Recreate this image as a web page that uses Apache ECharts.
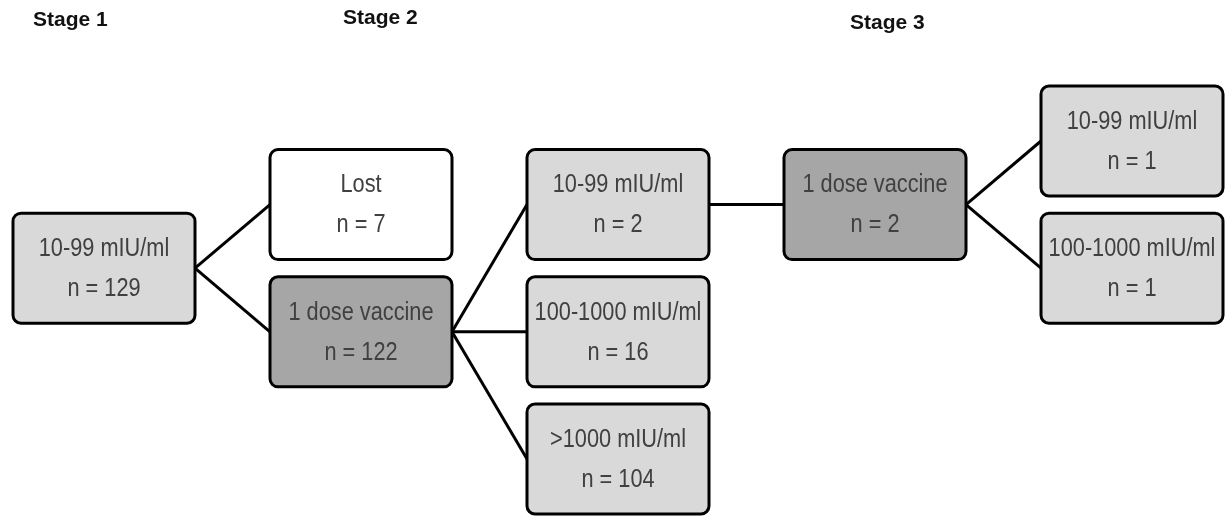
<!DOCTYPE html>
<html>
<head>
<meta charset="utf-8">
<script src="https://cdn.jsdelivr.net/npm/echarts@6/dist/echarts.min.js"></script>
<style>
  html, body { margin: 0; padding: 0; background: #fff; }
  #mychart { width: 1226px; height: 516px; }
</style>
</head>
<body>
<div id="mychart"></div>
<script>
// nodes of the flow chart
const nodeLabels = ['10-99 mIU/ml', 'Lost', '1 dose vaccine', '10-99 mIU/ml', '100-1000 mIU/ml', '>1000 mIU/ml', '1 dose vaccine', '10-99 mIU/ml', '100-1000 mIU/ml'];
const nodeCounts = [129, 7, 122, 2, 16, 104, 2, 1, 1];
const nodeColumns = [0, 1, 1, 2, 2, 2, 3, 4, 4];
const nodeRows = [2, 1, 3, 1, 3, 5, 1, 0, 2];
const nodeKinds = ['level', 'lost', 'vaccine', 'level', 'level', 'level', 'vaccine', 'level', 'level'];
// links: [from, to]
const links = [[0, 1], [0, 2], [2, 3], [2, 4], [2, 5], [3, 6], [6, 7], [6, 8]];
const stageLabels = ['Stage 1', 'Stage 2', 'Stage 3'];

const BOX_W = 182;
const BOX_H = 110;
const kindColor = { level: '#d9d9d9', lost: '#ffffff', vaccine: '#a6a6a6' };
const boxFont = "'Liberation Sans', Arial, sans-serif";
const stageFont = 'bold 21px "Liberation Sans", Arial, sans-serif';

const linkData = links.map(([a, b]) => [nodeColumns[a], nodeRows[a], nodeColumns[b], nodeRows[b]]);
const nodeData = nodeLabels.map((t, i) => [nodeColumns[i], nodeRows[i], i]);

const option = {
  animation: false,
  grid: { left: 104, right: 94, top: 141, bottom: 57 },
  xAxis: { type: 'value', min: 0, max: 4, show: false },
  yAxis: { type: 'value', min: 0, max: 5, inverse: true, show: false },
  graphic: [
    { type: 'text', x: 33, y: 20, style: { text: stageLabels[0], font: stageFont, fill: '#111', verticalAlign: 'middle' } },
    { type: 'text', x: 343, y: 18, style: { text: stageLabels[1], font: stageFont, fill: '#111', verticalAlign: 'middle' } },
    { type: 'text', x: 850, y: 23, style: { text: stageLabels[2], font: stageFont, fill: '#111', verticalAlign: 'middle' } }
  ],
  series: [
    {
      type: 'custom',
      encode: { x: [0, 2], y: [1, 3] },
      data: linkData,
      renderItem: function (params, api) {
        const p1 = api.coord([api.value(0), api.value(1)]);
        const p2 = api.coord([api.value(2), api.value(3)]);
        return {
          type: 'line',
          shape: { x1: p1[0] + BOX_W / 2, y1: p1[1], x2: p2[0] - BOX_W / 2, y2: p2[1] },
          style: { stroke: '#000', lineWidth: 3 }
        };
      },
      z: 1
    },
    {
      type: 'custom',
      encode: { x: 0, y: 1 },
      data: nodeData,
      renderItem: function (params, api) {
        const i = api.value(2);
        const c = api.coord([api.value(0), api.value(1)]);
        return {
          type: 'group',
          children: [
            {
              type: 'rect',
              shape: { x: c[0] - BOX_W / 2, y: c[1] - BOX_H / 2, width: BOX_W, height: BOX_H, r: 8 },
              style: { fill: kindColor[nodeKinds[i]], stroke: '#000', lineWidth: 3 }
            },
            {
              type: 'text',
              x: c[0],
              y: c[1] + 1,
              scaleX: 0.87,
              style: {
                text: nodeLabels[i] + '\nn = ' + nodeCounts[i],
                align: 'center',
                verticalAlign: 'middle',
                fontSize: 25,
                fontFamily: boxFont,
                lineHeight: 40,
                fill: '#404040'
              }
            }
          ]
        };
      },
      z: 2
    }
  ]
};

const myChart = echarts.init(document.getElementById('mychart'));
myChart.setOption(option);
</script>
</body>
</html>
